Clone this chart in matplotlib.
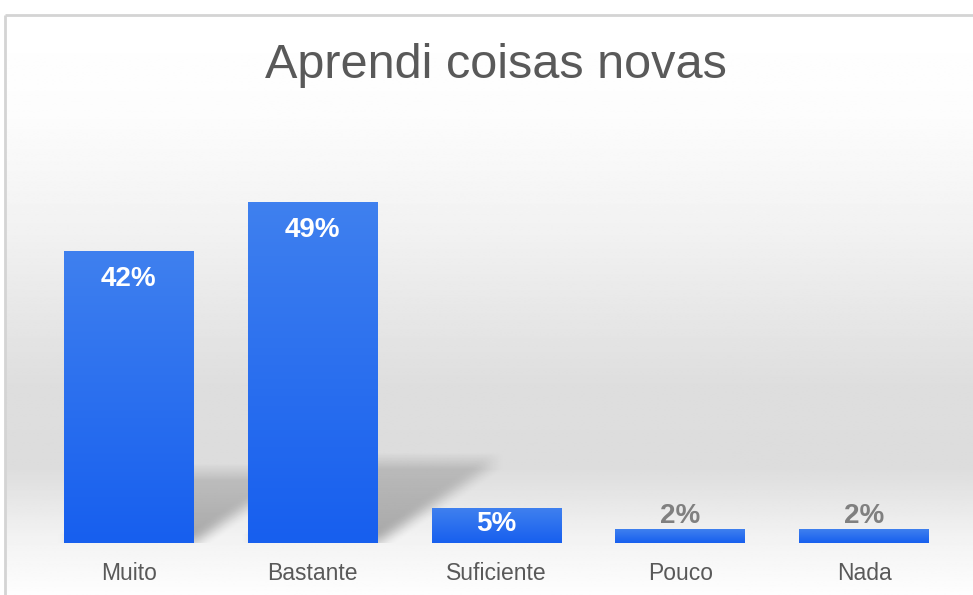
import numpy as np
import matplotlib
matplotlib.use('Agg')
import matplotlib.pyplot as plt
from matplotlib.colors import LinearSegmentedColormap

plt.rcParams['font.family'] = ['Liberation Sans', 'DejaVu Sans']

categories = ['Muito', 'Bastante', 'Suficiente', 'Pouco', 'Nada']
values = [42, 49, 5, 2, 2]
labels = ['42%', '49%', '5%', '2%', '2%']

W, H = 973, 595
fig = plt.figure(figsize=(W / 100, H / 100), dpi=100)
fig.patch.set_facecolor('white')

# background panel with vertical grey gradient
bg = fig.add_axes([0, 0, 1, 1])
bg.set_axis_off()
bg.set_xlim(0, W)
bg.set_ylim(H, 0)
rows = np.linspace(0, 1, 400)
g = np.interp(rows, [0, 0.17, 0.38, 0.64, 0.78, 0.9, 1.0],
              [1.0, 0.99, 0.945, 0.87, 0.865, 0.95, 0.995])
bg.imshow(np.repeat(g[:, None], 2, axis=1), cmap='gray', vmin=0, vmax=1,
          extent=[5, W, H, 15], aspect='auto', interpolation='bilinear')
bg.plot([5, 5], [H, 15], color='#d4d4d4', lw=2, solid_capstyle='butt')
bg.plot([5, W], [15, 15], color='#d4d4d4', lw=2, solid_capstyle='butt')

# main axes
ax = fig.add_axes([37 / W, 52 / H, 919 / W, 383 / H])
ax.patch.set_visible(False)
ax.set_xlim(-0.5, 4.5)
ax.set_ylim(0, 55)
for s in ax.spines.values():
    s.set_visible(False)
ax.set_yticks([])

x = np.arange(len(values))
width = 0.707

# soft shadows cast behind the bars
nx, ny = 919, 383
gx = np.linspace(-0.5, 4.5, nx)
gy = np.linspace(0, 55, ny)
XX, YY = np.meshgrid(gx, gy)
shade = np.zeros_like(XX)
for xi, v in zip(x, values):
    if v < 10:
        continue
    sh = 0.24 * v
    dx = 0.0135 * v
    t = np.clip(YY / sh, 0, 1)
    left = xi - width / 2 + dx * t
    right = xi + width / 2 + dx * t
    inside = (YY <= sh) & (XX >= left) & (XX <= right)
    shade = np.maximum(shade, inside * (1 - 0.55 * t))
k = np.ones(17) / 17
shade = np.apply_along_axis(lambda r: np.convolve(r, k, mode='same'), 1, shade)
shade = np.apply_along_axis(lambda c: np.convolve(c, k, mode='same'), 0, shade)
rgba = np.zeros((ny, nx, 4))
rgba[..., 3] = shade * 0.32
ax.imshow(rgba, extent=[-0.5, 4.5, 0, 55], origin='lower', aspect='auto',
          zorder=1, interpolation='bilinear')

# bars with vertical gradient
bars = ax.bar(x, values, width=width, color='#2a6ef0', edgecolor='none', zorder=2)
bar_cmap = LinearSegmentedColormap.from_list('b', ['#175fee', '#3f80ef'])
for b in bars:
    x0, y0 = b.get_x(), b.get_y()
    im = ax.imshow(np.linspace(0, 1, 100)[:, None], cmap=bar_cmap, origin='lower',
                   extent=[x0, x0 + b.get_width(), y0, y0 + b.get_height()],
                   aspect='auto', zorder=3)
    im.set_clip_path(b)
ax.set_xlim(-0.5, 4.5)
ax.set_ylim(0, 55)

for xi, v, lab in zip(x, values, labels):
    if v > 10:
        ax.text(xi, v - 4.1, lab, ha='center', va='center', color='white',
                fontsize=20, fontweight='bold', zorder=4)
    elif v >= 5:
        ax.text(xi, v / 2 + 0.2, lab, ha='center', va='center', color='white',
                fontsize=20, fontweight='bold', zorder=4)
    else:
        ax.text(xi, v + 1.9, lab, ha='center', va='center', color='#808080',
                fontsize=20, fontweight='bold', zorder=4)

ax.set_xticks(x, categories)
ax.tick_params(axis='x', length=0, pad=14, labelsize=16.5, labelcolor='#595959')

fig.text(496 / W, 1 - 65 / H, 'Aprendi coisas novas', ha='center', va='center',
         fontsize=35, color='#595959')

fig.savefig('out.png', dpi=100)
